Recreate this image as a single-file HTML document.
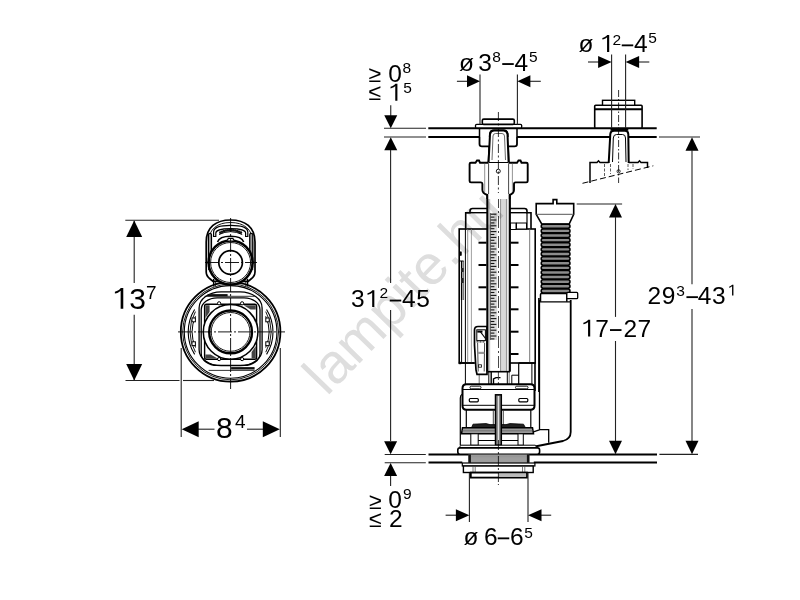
<!DOCTYPE html>
<html><head><meta charset="utf-8"><style>
html,body{margin:0;padding:0;background:#fff;width:800px;height:600px;overflow:hidden}
svg{display:block;will-change:transform}
text{font-family:"Liberation Sans",sans-serif;fill:#000}
</style></head><body>
<svg width="800" height="600" viewBox="0 0 800 600">
<rect width="800" height="600" fill="#fff"/>
<line x1="125.3" y1="220.3" x2="219" y2="220.3" stroke="#222" stroke-width="1.1" />
<line x1="134.2" y1="221" x2="134.2" y2="283" stroke="#222" stroke-width="1.1" />
<line x1="134.2" y1="314.7" x2="134.2" y2="380" stroke="#222" stroke-width="1.1" />
<polygon points="134.2,220.5 126.19999999999999,237.0 142.2,237.0" fill="#000"/>
<polygon points="134.2,380.5 126.19999999999999,364.0 142.2,364.0" fill="#000"/>
<line x1="125.5" y1="380.5" x2="179.5" y2="380.5" stroke="#222" stroke-width="1.1" />
<line x1="183" y1="380.5" x2="214" y2="380.5" stroke="#222" stroke-width="1.1" />
<line x1="181.2" y1="348" x2="181.2" y2="437" stroke="#222" stroke-width="1.1" />
<line x1="280.3" y1="348" x2="280.3" y2="437" stroke="#222" stroke-width="1.1" />
<line x1="197" y1="429.2" x2="214.5" y2="429.2" stroke="#222" stroke-width="1.1" />
<line x1="247" y1="429.2" x2="264" y2="429.2" stroke="#222" stroke-width="1.1" />
<polygon points="181.7,429.2 198.7,421.2 198.7,437.2" fill="#000"/>
<polygon points="279.8,429.2 262.8,421.2 262.8,437.2" fill="#000"/>
<path d="M590,0V1230C480,1120 340,1060 197,1030V1165C380,1210 520,1300 600,1409H770V0Z" fill="#000" transform="translate(112.00,308.7) scale(0.01465,-0.01465)"/>
<text x="129.18" y="308.7" font-size="30" >3</text>
<text x="146.00" y="298.5" font-size="19" >7</text>
<text x="216.00" y="438.2" font-size="30" >8</text>
<text x="235.00" y="428.3" font-size="19" >4</text>
<circle cx="230.6" cy="331.9" r="49.8" fill="#fff" stroke="#000" stroke-width="1.8" />
<circle cx="230.6" cy="331.9" r="47.9" fill="none" stroke="#000" stroke-width="0.9" />
<circle cx="230.6" cy="331.9" r="46.3" fill="none" stroke="#000" stroke-width="1.1" />
<rect x="199.1" y="291.9" width="63" height="73.8" rx="22" fill="none" stroke="#000" stroke-width="1.3" ry="16"/>
<rect x="201.2" y="297.79999999999995" width="58.8" height="67.6" rx="16" fill="none" stroke="#000" stroke-width="1.3" ry="12"/>
<rect x="204.6" y="304.2" width="52" height="55" rx="2" fill="none" stroke="#000" stroke-width="1.4" />
<polygon points="205.4,305.2 209.6,305.2 209.6,311.9 205.4,317.9" fill="#444"/>
<polygon points="255.79999999999998,305.2 243.6,305.2 250.6,309.4 255.79999999999998,309.4" fill="#444"/>
<polygon points="255.79999999999998,358.59999999999997 251.6,358.59999999999997 251.6,351.9 255.79999999999998,345.9" fill="#444"/>
<polygon points="205.4,358.59999999999997 217.6,358.59999999999997 210.6,354.4 205.4,354.4" fill="#444"/>
<path d="M266.56,309.43 A42.4,42.4 0 0 1 266.56,354.37" fill="none" stroke="#000" stroke-width="1.1" />
<path d="M265.76,311.60 A40.6,40.6 0 0 1 265.76,352.20" fill="none" stroke="#000" stroke-width="0.9" />
<path d="M265.68,316.28 A38.4,38.4 0 0 1 265.68,347.52" fill="none" stroke="#000" stroke-width="1.0" />
<rect x="265.8" y="318.0" width="3.4" height="3.8" rx="0" fill="#fff" stroke="#000" stroke-width="1.0" />
<rect x="265.8" y="341.8" width="3.4" height="3.8" rx="0" fill="#fff" stroke="#000" stroke-width="1.0" />
<path d="M194.64,354.37 A42.4,42.4 0 0 1 194.64,309.43" fill="none" stroke="#000" stroke-width="1.1" />
<path d="M195.44,352.20 A40.6,40.6 0 0 1 195.44,311.60" fill="none" stroke="#000" stroke-width="0.9" />
<path d="M195.52,347.52 A38.4,38.4 0 0 1 195.52,316.28" fill="none" stroke="#000" stroke-width="1.0" />
<rect x="192.0" y="318.0" width="3.4" height="3.8" rx="0" fill="#fff" stroke="#000" stroke-width="1.0" />
<rect x="192.0" y="341.8" width="3.4" height="3.8" rx="0" fill="#fff" stroke="#000" stroke-width="1.0" />
<circle cx="219.1" cy="303.29999999999995" r="1.6" fill="#fff" stroke="#000" stroke-width="1" />
<circle cx="219.1" cy="359.09999999999997" r="1.6" fill="#fff" stroke="#000" stroke-width="1" />
<circle cx="242.1" cy="303.29999999999995" r="1.6" fill="#fff" stroke="#000" stroke-width="1" />
<circle cx="242.1" cy="359.09999999999997" r="1.6" fill="#fff" stroke="#000" stroke-width="1" />
<circle cx="230.6" cy="331.9" r="27.3" fill="#fff" stroke="#000" stroke-width="1.5" />
<circle cx="230.6" cy="331.9" r="21.4" fill="none" stroke="#000" stroke-width="2.4" />
<circle cx="230.6" cy="331.9" r="19.4" fill="none" stroke="#000" stroke-width="0.9" />
<rect x="207.6" y="294.09999999999997" width="20" height="2.2" rx="0" fill="#111" stroke="none" stroke-width="0" />
<rect x="231.1" y="367.09999999999997" width="23.5" height="2.4" rx="0" fill="#111" stroke="none" stroke-width="0" />
<line x1="204.6" y1="296.29999999999995" x2="254.6" y2="296.29999999999995" stroke="#000" stroke-width="0.8" />
<line x1="208.6" y1="370.4" x2="254.6" y2="370.4" stroke="#000" stroke-width="0.8" />
<path d="M206.2,272 L206.2,242 C206.2,227 216,220 230.6,220 C245.2,220 255,227 255,242 L255,272 Q255,276 251,279 L248.2,281.3 L213,281.3 L210.2,279 Q206.2,276 206.2,272 Z" fill="#fff" stroke="#000" stroke-width="1.7" />
<path d="M208.5,270 L208.5,242.5 C208.5,229 217.5,222.5 230.6,222.5 C243.7,222.5 252.7,229 252.7,242.5 L252.7,270" fill="none" stroke="#000" stroke-width="0.9" />
<path d="M213.6,236.5 L213.6,232 C213.6,227.5 220,225.3 230.6,225.3 C241.2,225.3 247.8,227.5 247.8,232 L247.8,236.5 L245.6,236.5 L245.6,233 C245.6,230.5 240,228.6 230.6,228.6 C221.2,228.6 215.8,230.5 215.8,233 L215.8,236.5 Z" fill="#fff" stroke="#000" stroke-width="1.2" />
<circle cx="220.3" cy="232.6" r="1.3" fill="#111"/><circle cx="222.2" cy="231.7" r="1.3" fill="#111"/><circle cx="224.0" cy="231.1" r="1.3" fill="#111"/><circle cx="225.9" cy="230.5" r="1.3" fill="#111"/><circle cx="227.8" cy="230.2" r="1.3" fill="#111"/><circle cx="229.7" cy="230.0" r="1.3" fill="#111"/><circle cx="231.5" cy="230.0" r="1.3" fill="#111"/><circle cx="233.4" cy="230.2" r="1.3" fill="#111"/><circle cx="235.3" cy="230.5" r="1.3" fill="#111"/><circle cx="237.2" cy="231.1" r="1.3" fill="#111"/><circle cx="239.0" cy="231.7" r="1.3" fill="#111"/><circle cx="240.9" cy="232.6" r="1.3" fill="#111"/>
<path d="M219,234.5 Q230.6,228.8 242.2,234.5" fill="none" stroke="#000" stroke-width="1.0" />
<path d="M217.5,242 Q219.5,236.2 230.6,236.2 Q241.7,236.2 243.7,242" fill="none" stroke="#000" stroke-width="1.5" />
<rect x="208.4" y="233.3" width="3.1" height="31" rx="1.5" fill="#999" stroke="#000" stroke-width="1.2" />
<rect x="249.7" y="233.3" width="3.1" height="31" rx="1.5" fill="#999" stroke="#000" stroke-width="1.2" />
<rect x="207.6" y="261" width="4.6" height="3" rx="0" fill="#222" stroke="none" stroke-width="0" />
<rect x="249" y="261" width="4.6" height="3" rx="0" fill="#222" stroke="none" stroke-width="0" />
<circle cx="230.6" cy="262.5" r="22" fill="#fff" stroke="#000" stroke-width="2.5" />
<circle cx="230.6" cy="262.5" r="20" fill="none" stroke="#000" stroke-width="0.9" />
<circle cx="230.6" cy="262.5" r="11.8" fill="none" stroke="#000" stroke-width="1.7" />
<path d="M227.2,240.6 L228.3,238.4 L232.9,238.4 L234,240.6" fill="#fff" stroke="#000" stroke-width="1.2" />
<line x1="213.6" y1="279" x2="213.6" y2="286.5" stroke="#000" stroke-width="1.3" />
<line x1="215.4" y1="281.3" x2="215.4" y2="286" stroke="#000" stroke-width="0.8" />
<line x1="245.8" y1="281.3" x2="245.8" y2="286" stroke="#000" stroke-width="0.8" />
<line x1="247.6" y1="279" x2="247.6" y2="286.5" stroke="#000" stroke-width="1.3" />
<line x1="230.6" y1="218" x2="230.6" y2="389" stroke="#000" stroke-width="0.9" stroke-dasharray="14 2 2 2"/>
<line x1="205" y1="262.5" x2="257" y2="262.5" stroke="#000" stroke-width="0.9" stroke-dasharray="14 2 2 2"/>
<line x1="178" y1="331.9" x2="285" y2="331.9" stroke="#000" stroke-width="0.9" stroke-dasharray="14 2 2 2"/>
<line x1="384" y1="128.3" x2="426" y2="128.3" stroke="#222" stroke-width="1.1" />
<line x1="384" y1="137" x2="426" y2="137" stroke="#222" stroke-width="1.1" />
<line x1="428.3" y1="128.2" x2="656.7" y2="128.2" stroke="#000" stroke-width="2.0" />
<line x1="428.3" y1="137.0" x2="479.5" y2="137.0" stroke="#000" stroke-width="2.0" />
<line x1="517" y1="137.0" x2="610" y2="137.0" stroke="#000" stroke-width="2.0" />
<line x1="628.5" y1="137.0" x2="656.7" y2="137.0" stroke="#000" stroke-width="2.0" />
<line x1="659" y1="137" x2="700" y2="137" stroke="#222" stroke-width="1.1" />
<line x1="384.7" y1="454.5" x2="425.8" y2="454.5" stroke="#222" stroke-width="1.1" />
<line x1="384.7" y1="462.8" x2="425.8" y2="462.8" stroke="#222" stroke-width="1.1" />
<line x1="428.5" y1="454.4" x2="657" y2="454.4" stroke="#000" stroke-width="2.0" />
<line x1="428.5" y1="462.6" x2="462.3" y2="462.6" stroke="#000" stroke-width="2.0" />
<line x1="533.8" y1="462.6" x2="657" y2="462.6" stroke="#000" stroke-width="2.0" />
<line x1="659.4" y1="454.4" x2="698" y2="454.4" stroke="#222" stroke-width="1.1" />
<path d="M539.5,300 L539.5,429.6 M532.7,432.2 L540,429.6 L548.7,429.6 L548.7,442.7" fill="none" stroke="#000" stroke-width="1.3" />
<path d="M570.7,300 L570.7,432 Q570.7,439 563,441 L535,446.5" fill="none" stroke="#000" stroke-width="1.8" />
<rect x="459.2" y="229" width="76" height="134" rx="0" fill="#fff" stroke="#000" stroke-width="1.6" />
<line x1="461.6" y1="261" x2="461.6" y2="363" stroke="#000" stroke-width="1.0" />
<line x1="465.4" y1="229" x2="465.4" y2="384" stroke="#000" stroke-width="1.0" />
<line x1="467.7" y1="229" x2="467.7" y2="363" stroke="#777" stroke-width="0.8" />
<line x1="471.4" y1="229" x2="471.4" y2="363" stroke="#888" stroke-width="0.8" />
<line x1="529.7" y1="229" x2="529.7" y2="363" stroke="#555" stroke-width="0.8" />
<line x1="518.7" y1="363" x2="535" y2="363" stroke="#000" stroke-width="1.6" />
<line x1="518.7" y1="363" x2="518.7" y2="384" stroke="#000" stroke-width="1.2" />
<line x1="531.9" y1="363" x2="531.9" y2="384" stroke="#000" stroke-width="1.0" />
<line x1="535" y1="363" x2="535" y2="391" stroke="#000" stroke-width="1.6" />
<line x1="538.9" y1="298" x2="538.9" y2="392" stroke="#000" stroke-width="1.6" />
<line x1="459.2" y1="363" x2="474" y2="363" stroke="#000" stroke-width="1.6" />
<rect x="459.5" y="251.8" width="2" height="3.8" rx="0" fill="#000" stroke="#000" stroke-width="0.5" />
<line x1="461.6" y1="261" x2="461.6" y2="300" stroke="#000" stroke-width="1.4" />
<line x1="463.6" y1="261" x2="463.6" y2="300" stroke="#444" stroke-width="0.8" />
<rect x="461" y="268" width="2.6" height="4" rx="0" fill="#222" stroke="none" stroke-width="0" />
<rect x="461" y="278" width="2.6" height="5" rx="0" fill="#222" stroke="none" stroke-width="0" />
<line x1="459.2" y1="261" x2="463.6" y2="261" stroke="#000" stroke-width="1.0" />
<line x1="478.5" y1="242.7" x2="486.5" y2="242.7" stroke="#000" stroke-width="2.0" />
<line x1="510.5" y1="242.7" x2="518.5" y2="242.7" stroke="#000" stroke-width="2.0" />
<line x1="478.5" y1="265" x2="486.5" y2="265" stroke="#000" stroke-width="2.0" />
<line x1="510.5" y1="265" x2="518.5" y2="265" stroke="#000" stroke-width="2.0" />
<line x1="478.5" y1="287.3" x2="486.5" y2="287.3" stroke="#000" stroke-width="2.0" />
<line x1="510.5" y1="287.3" x2="518.5" y2="287.3" stroke="#000" stroke-width="2.0" />
<line x1="478.5" y1="309.3" x2="486.5" y2="309.3" stroke="#000" stroke-width="2.0" />
<line x1="510.5" y1="309.3" x2="518.5" y2="309.3" stroke="#000" stroke-width="2.0" />
<line x1="478.5" y1="331.7" x2="486.5" y2="331.7" stroke="#000" stroke-width="2.0" />
<line x1="510.5" y1="331.7" x2="518.5" y2="331.7" stroke="#000" stroke-width="2.0" />
<line x1="478.5" y1="354" x2="486.5" y2="354" stroke="#000" stroke-width="2.0" />
<line x1="510.5" y1="354" x2="518.5" y2="354" stroke="#000" stroke-width="2.0" />
<path d="M465.7,229 L465.7,212.7 L470,212.7 L470,211 Q470,208.5 472.5,208.5 L487,208.5" fill="#fff" stroke="#000" stroke-width="1.6" />
<line x1="465.7" y1="212.7" x2="487" y2="212.7" stroke="#000" stroke-width="1.4" />
<path d="M510,208.5 L524.5,208.5 Q527,208.5 527,211 L527,212.7 L531,212.7 L531,229" fill="#fff" stroke="#000" stroke-width="1.6" />
<line x1="510" y1="212.7" x2="527" y2="212.7" stroke="#000" stroke-width="1.4" />
<line x1="527" y1="212.7" x2="527" y2="229" stroke="#000" stroke-width="1.2" />
<rect x="510.5" y="223" width="5.5" height="6.5" rx="0" fill="#fff" stroke="#000" stroke-width="1.0" />
<rect x="516.5" y="223" width="10" height="6" rx="0" fill="#fff" stroke="#000" stroke-width="1.0" />
<path d="M474.5,330 Q474.5,326.5 478,326.5 L487,326.5 L487,374.3 L477,374.3 L476,370 L474.5,345 Z" fill="#fff" stroke="#000" stroke-width="1.7" />
<rect x="476.8" y="329.8" width="8.6" height="10.8" rx="0" fill="#fff" stroke="#000" stroke-width="1.0" />
<line x1="477.3" y1="331.6" x2="482.5" y2="331.6" stroke="#000" stroke-width="2.0" />
<line x1="480.5" y1="331.8" x2="485.5" y2="338.5" stroke="#000" stroke-width="1.1" />
<line x1="476.5" y1="341.8" x2="485.5" y2="341.8" stroke="#333" stroke-width="1.3" stroke-dasharray="2 1"/>
<line x1="477.6" y1="343" x2="478.2" y2="371.5" stroke="#333" stroke-width="0.9" />
<line x1="484.6" y1="343" x2="484.2" y2="371.5" stroke="#333" stroke-width="0.9" />
<rect x="477.8" y="351.8" width="6.6" height="2.2" rx="0" fill="#999" stroke="none" stroke-width="0" />
<rect x="478.5" y="364.8" width="3" height="2.4" rx="0" fill="#fff" stroke="#000" stroke-width="0.8" />
<line x1="488.8" y1="372" x2="488.8" y2="384" stroke="#000" stroke-width="1.0" />
<line x1="491.2" y1="372" x2="491.2" y2="384" stroke="#000" stroke-width="1.4" />
<line x1="507.3" y1="372" x2="507.3" y2="384" stroke="#000" stroke-width="1.0" />
<line x1="509.2" y1="372" x2="509.2" y2="384" stroke="#555" stroke-width="0.8" />
<path d="M493.5,384 L493.5,379 L496,377.6 L500.5,377.6" fill="none" stroke="#000" stroke-width="1.4" />
<line x1="511.8" y1="375.2" x2="518.7" y2="375.2" stroke="#000" stroke-width="1.0" />
<line x1="511.8" y1="375.2" x2="511.8" y2="384" stroke="#000" stroke-width="1.0" />
<line x1="479.2" y1="375" x2="479.2" y2="384" stroke="#444" stroke-width="0.8" />
<rect x="458.8" y="361.8" width="2.4" height="2.4" rx="0" fill="#000" stroke="none" stroke-width="0" />
<line x1="498.4" y1="372" x2="498.4" y2="394" stroke="#333" stroke-width="0.9" stroke-dasharray="8 2 2 2"/>
<rect x="487.3" y="193" width="22.6" height="178.7" rx="0" fill="#fff" stroke="none" stroke-width="0" />
<rect x="488" y="196" width="2.2" height="175.5" rx="0" fill="#c8c8c8" stroke="none" stroke-width="0" />
<rect x="490.2" y="213" width="7" height="127" rx="0" fill="#dadada" stroke="none" stroke-width="0" />
<line x1="490.4" y1="214.2" x2="496.4" y2="214.2" stroke="#111" stroke-width="1.1" />
<line x1="490.4" y1="217.1" x2="494.4" y2="217.1" stroke="#111" stroke-width="1.1" />
<line x1="490.4" y1="220.0" x2="496.4" y2="220.0" stroke="#111" stroke-width="1.1" />
<line x1="490.4" y1="222.9" x2="494.4" y2="222.9" stroke="#111" stroke-width="1.1" />
<line x1="490.4" y1="225.8" x2="496.4" y2="225.8" stroke="#111" stroke-width="1.1" />
<line x1="490.4" y1="228.7" x2="494.4" y2="228.7" stroke="#111" stroke-width="1.1" />
<line x1="490.4" y1="231.6" x2="496.4" y2="231.6" stroke="#111" stroke-width="1.1" />
<line x1="490.4" y1="234.5" x2="494.4" y2="234.5" stroke="#111" stroke-width="1.1" />
<line x1="490.4" y1="237.4" x2="496.4" y2="237.4" stroke="#111" stroke-width="1.1" />
<line x1="490.4" y1="240.3" x2="494.4" y2="240.3" stroke="#111" stroke-width="1.1" />
<line x1="490.4" y1="243.2" x2="496.4" y2="243.2" stroke="#111" stroke-width="1.1" />
<line x1="490.4" y1="246.1" x2="494.4" y2="246.1" stroke="#111" stroke-width="1.1" />
<line x1="490.4" y1="249.0" x2="496.4" y2="249.0" stroke="#111" stroke-width="1.1" />
<line x1="490.4" y1="251.9" x2="494.4" y2="251.9" stroke="#111" stroke-width="1.1" />
<line x1="490.4" y1="254.8" x2="496.4" y2="254.8" stroke="#111" stroke-width="1.1" />
<line x1="490.4" y1="257.7" x2="494.4" y2="257.7" stroke="#111" stroke-width="1.1" />
<line x1="490.4" y1="260.6" x2="496.4" y2="260.6" stroke="#111" stroke-width="1.1" />
<line x1="490.4" y1="263.5" x2="494.4" y2="263.5" stroke="#111" stroke-width="1.1" />
<line x1="490.4" y1="266.4" x2="496.4" y2="266.4" stroke="#111" stroke-width="1.1" />
<line x1="490.4" y1="269.3" x2="494.4" y2="269.3" stroke="#111" stroke-width="1.1" />
<line x1="490.4" y1="272.2" x2="496.4" y2="272.2" stroke="#111" stroke-width="1.1" />
<line x1="490.4" y1="275.1" x2="494.4" y2="275.1" stroke="#111" stroke-width="1.1" />
<line x1="490.4" y1="278.0" x2="496.4" y2="278.0" stroke="#111" stroke-width="1.1" />
<line x1="490.4" y1="280.9" x2="494.4" y2="280.9" stroke="#111" stroke-width="1.1" />
<line x1="490.4" y1="283.8" x2="496.4" y2="283.8" stroke="#111" stroke-width="1.1" />
<line x1="490.4" y1="286.7" x2="494.4" y2="286.7" stroke="#111" stroke-width="1.1" />
<line x1="490.4" y1="289.6" x2="496.4" y2="289.6" stroke="#111" stroke-width="1.1" />
<line x1="490.4" y1="292.5" x2="494.4" y2="292.5" stroke="#111" stroke-width="1.1" />
<line x1="490.4" y1="295.4" x2="496.4" y2="295.4" stroke="#111" stroke-width="1.1" />
<line x1="490.4" y1="298.3" x2="494.4" y2="298.3" stroke="#111" stroke-width="1.1" />
<line x1="490.4" y1="301.2" x2="496.4" y2="301.2" stroke="#111" stroke-width="1.1" />
<line x1="490.4" y1="304.1" x2="494.4" y2="304.1" stroke="#111" stroke-width="1.1" />
<line x1="490.4" y1="307.0" x2="496.4" y2="307.0" stroke="#111" stroke-width="1.1" />
<line x1="490.4" y1="309.9" x2="494.4" y2="309.9" stroke="#111" stroke-width="1.1" />
<line x1="490.4" y1="312.8" x2="496.4" y2="312.8" stroke="#111" stroke-width="1.1" />
<line x1="490.4" y1="315.7" x2="494.4" y2="315.7" stroke="#111" stroke-width="1.1" />
<line x1="490.4" y1="318.6" x2="496.4" y2="318.6" stroke="#111" stroke-width="1.1" />
<line x1="490.4" y1="321.5" x2="494.4" y2="321.5" stroke="#111" stroke-width="1.1" />
<line x1="490.4" y1="324.4" x2="496.4" y2="324.4" stroke="#111" stroke-width="1.1" />
<line x1="490.4" y1="327.3" x2="494.4" y2="327.3" stroke="#111" stroke-width="1.1" />
<line x1="490.4" y1="330.2" x2="496.4" y2="330.2" stroke="#111" stroke-width="1.1" />
<line x1="490.4" y1="333.1" x2="494.4" y2="333.1" stroke="#111" stroke-width="1.1" />
<line x1="490.4" y1="336.0" x2="496.4" y2="336.0" stroke="#111" stroke-width="1.1" />
<line x1="490.4" y1="338.9" x2="494.4" y2="338.9" stroke="#111" stroke-width="1.1" />
<line x1="490.4" y1="213" x2="490.4" y2="340" stroke="#444" stroke-width="0.8" />
<rect x="500.6" y="192.5" width="5.8" height="179" rx="0" fill="#d8d8d8" stroke="#888" stroke-width="0.9" />
<line x1="508.2" y1="196" x2="508.2" y2="371.7" stroke="#aaa" stroke-width="0.8" />
<line x1="498.5" y1="196" x2="498.5" y2="371" stroke="#333" stroke-width="0.9" stroke-dasharray="12 3 2 3"/>
<line x1="487.3" y1="193" x2="487.3" y2="371.7" stroke="#000" stroke-width="2.0" />
<line x1="509.9" y1="193" x2="509.9" y2="371.7" stroke="#000" stroke-width="2.0" />
<line x1="487.3" y1="371.7" x2="509.9" y2="371.7" stroke="#000" stroke-width="1.6" />
<path d="M469.6,164 Q469.6,162.7 471,162.7 L526.3,162.7 Q527.7,162.7 527.7,164 L527.7,181 Q527.7,182.4 526.3,182.4 L515.5,182.4 Q514,182.4 514,184 L514,190 Q514,193.3 509.6,195 L509.6,199 L487.3,199 L487.3,195 Q482.4,193.3 482.4,190 L482.4,184 Q482.4,182.4 481,182.4 L471,182.4 Q469.6,182.4 469.6,181 Z" fill="#fff" stroke="none" stroke-width="0" />
<path d="M487.3,199 L487.3,195 Q482.4,193.3 482.4,190 L482.4,184 Q482.4,182.4 481,182.4 L471,182.4 Q469.6,182.4 469.6,181 L469.6,164 Q469.6,162.7 471,162.7 L475.5,162.7 L477,160.5 L479,160.5 L480,162.7 L488.6,162.7 M508.6,162.7 L517,162.7 L518.5,160.5 L520.5,160.5 L521.5,162.7 L526.3,162.7 Q527.7,162.7 527.7,164 L527.7,181 Q527.7,182.4 526.3,182.4 L515.5,182.4 Q514,182.4 514,184 L514,190 Q514,193.3 509.6,195 L509.6,199" fill="none" stroke="#000" stroke-width="1.9" />
<line x1="484.7" y1="163.5" x2="484.7" y2="192" stroke="#666" stroke-width="0.7" />
<line x1="488.6" y1="163.5" x2="488.6" y2="194" stroke="#333" stroke-width="0.9" />
<line x1="508.6" y1="163.5" x2="508.6" y2="194" stroke="#333" stroke-width="0.9" />
<line x1="512.4" y1="163.5" x2="512.4" y2="192" stroke="#666" stroke-width="0.7" />
<circle cx="498.3" cy="171.2" r="2.0" fill="#fff" stroke="#000" stroke-width="0.9" />
<line x1="488.6" y1="162.2" x2="508.6" y2="162.2" stroke="#000" stroke-width="1.6" />
<path d="M488.6,162 L490,134 Q490.5,130.6 494,130.6 L503.5,130.6 Q507,130.6 507.5,134 L508.6,162" fill="#fff" stroke="#000" stroke-width="2.0" />
<path d="M492,160 L493,136 Q493.3,133.5 495.5,133.5 L502,133.5 Q504.3,133.5 504.5,136 L505.5,160" fill="none" stroke="#444" stroke-width="0.8" />
<path d="M479.5,137 L479.5,144 Q479.5,146.4 482,146.4 L514.5,146.4 Q517,146.4 517,144 L517,137" fill="#fff" stroke="#000" stroke-width="1.8" />
<line x1="479.5" y1="128.5" x2="479.5" y2="137" stroke="#000" stroke-width="1.5" />
<line x1="517" y1="128.5" x2="517" y2="137" stroke="#000" stroke-width="1.5" />
<path d="M488.6,162 L490,134 Q490.5,130.6 494,130.6 L503.5,130.6 Q507,130.6 507.5,134 L508.6,162" fill="#fff" stroke="#000" stroke-width="2.0" />
<path d="M492,160 L493,136 Q493.3,133.5 495.5,133.5 L502,133.5 Q504.3,133.5 504.5,136 L505.5,160" fill="none" stroke="#444" stroke-width="0.8" />
<rect x="475.5" y="124.4" width="46.2" height="3.6" rx="1.2" fill="#fff" stroke="#000" stroke-width="1.3" />
<rect x="482.3" y="119.1" width="32" height="5.3" rx="1.5" fill="#fff" stroke="#000" stroke-width="1.6" />
<line x1="498.4" y1="112" x2="498.4" y2="193" stroke="#000" stroke-width="0.8" stroke-dasharray="9 2.5 2 2.5"/>
<path d="M460.3,445 L460.3,398 Q460.3,395 462.5,394" fill="none" stroke="#000" stroke-width="1.2" />
<path d="M466.5,384.3 L530.5,384.3 Q534.5,384.3 534.5,388.3 L534.5,405.8 Q534.5,409.8 530.5,409.8 L466.5,409.8 Q462.5,409.8 462.5,405.8 L462.5,388.3 Q462.5,384.3 466.5,384.3 Z" fill="#fff" stroke="#000" stroke-width="2.0" />
<line x1="463" y1="389.5" x2="534" y2="389.5" stroke="#000" stroke-width="1.0" />
<line x1="463" y1="405.3" x2="534" y2="405.3" stroke="#000" stroke-width="1.0" />
<rect x="470" y="386.2" width="11" height="2.6" rx="1.2" fill="#fff" stroke="#000" stroke-width="0.9" />
<rect x="515.5" y="386.2" width="12.5" height="2.6" rx="1.2" fill="#fff" stroke="#000" stroke-width="0.9" />
<rect x="469.3" y="398.5" width="9" height="3.3" rx="1" fill="#fff" stroke="#000" stroke-width="1.2" />
<rect x="518.8" y="398.5" width="9" height="3.3" rx="1" fill="#fff" stroke="#000" stroke-width="1.2" />
<line x1="466.3" y1="409.8" x2="466.3" y2="428" stroke="#000" stroke-width="1.2" />
<line x1="530.8" y1="409.8" x2="530.8" y2="428" stroke="#000" stroke-width="1.2" />
<line x1="493.3" y1="409.8" x2="493.3" y2="427" stroke="#333" stroke-width="0.9" />
<line x1="503.3" y1="409.8" x2="503.3" y2="427" stroke="#333" stroke-width="0.9" />
<path d="M471.5,427.8 L473,424.2 L486,423.6 L490,424.6 L506,424.6 L510,423.6 L523.5,424.2 L525.5,427.8 Z" fill="#222" stroke="#000" stroke-width="0.8" />
<path d="M462.5,427.8 L532.5,427.8 L533.5,433.8 L461.5,433.8 Z" fill="#9a9a9a" stroke="#000" stroke-width="1.5" />
<line x1="462" y1="430.8" x2="533" y2="430.8" stroke="#555" stroke-width="0.6" />
<rect x="470.8" y="433.8" width="7.4" height="11.5" rx="0" fill="#fff" stroke="#000" stroke-width="1.0" />
<rect x="518" y="433.8" width="5.3" height="11.5" rx="0" fill="#fff" stroke="#000" stroke-width="1.0" />
<line x1="478.2" y1="440.5" x2="518" y2="440.5" stroke="#000" stroke-width="1.0" />
<rect x="495.5" y="394.8" width="5.8" height="50.5" rx="0" fill="#888" stroke="#000" stroke-width="1.5" />
<line x1="498.4" y1="396" x2="498.4" y2="444" stroke="#eee" stroke-width="1.0" />
<rect x="460" y="445.2" width="76" height="3" rx="1" fill="#fff" stroke="#000" stroke-width="1.0" />
<rect x="457.8" y="447.9" width="81.8" height="6.3" rx="2.2" fill="#fff" stroke="#000" stroke-width="1.6" />
<rect x="468.5" y="454.6" width="60.8" height="8.2" rx="0" fill="#c2c2c2" stroke="none" stroke-width="0" />
<line x1="470" y1="455.4" x2="527.5" y2="455.4" stroke="#666" stroke-width="0.5" />
<line x1="470" y1="456.55" x2="527.5" y2="456.55" stroke="#666" stroke-width="0.5" />
<line x1="470" y1="457.7" x2="527.5" y2="457.7" stroke="#666" stroke-width="0.5" />
<line x1="470" y1="458.85" x2="527.5" y2="458.85" stroke="#666" stroke-width="0.5" />
<line x1="470" y1="460.0" x2="527.5" y2="460.0" stroke="#666" stroke-width="0.5" />
<line x1="470" y1="461.15" x2="527.5" y2="461.15" stroke="#666" stroke-width="0.5" />
<line x1="470" y1="462.3" x2="527.5" y2="462.3" stroke="#666" stroke-width="0.5" />
<rect x="468.3" y="454.4" width="2.6" height="8.4" rx="0" fill="#111" stroke="none" stroke-width="0" />
<rect x="526.9" y="454.4" width="2.6" height="8.4" rx="0" fill="#111" stroke="none" stroke-width="0" />
<rect x="462.3" y="463" width="72.6" height="3" rx="0" fill="#fff" stroke="#000" stroke-width="1.2" />
<rect x="463.4" y="466" width="69.8" height="6.5" rx="0" fill="#fff" stroke="#000" stroke-width="1.4" />
<line x1="473" y1="466" x2="473" y2="472.5" stroke="#444" stroke-width="0.7" />
<line x1="475.2" y1="466" x2="475.2" y2="472.5" stroke="#444" stroke-width="0.7" />
<line x1="522.5" y1="466" x2="522.5" y2="472.5" stroke="#444" stroke-width="0.7" />
<line x1="524.8" y1="466" x2="524.8" y2="472.5" stroke="#444" stroke-width="0.7" />
<rect x="470.8" y="472.6" width="56.2" height="5" rx="0" fill="#fff" stroke="#000" stroke-width="1.8" />
<rect x="499" y="473.6" width="27" height="3" rx="0" fill="#bbb" stroke="none" stroke-width="0" />
<line x1="498.4" y1="440" x2="498.4" y2="485" stroke="#000" stroke-width="0.8" stroke-dasharray="10 2 2 2"/>
<path d="M536.2,203.6 L553.1,203.6 L553.1,199.6 L556.8,199.6 L556.8,203.6 L573.7,203.6 L573.7,214.4 L569.2,224 L541.7,224 L536.2,214.4 Z" fill="#fff" stroke="#000" stroke-width="1.6" />
<line x1="536.6" y1="214.4" x2="573.3" y2="214.4" stroke="#777" stroke-width="1.2" />
<rect x="542" y="224" width="27" height="69" rx="0" fill="#444" stroke="none" stroke-width="0" />
<rect x="541.2" y="224.3" width="28.8" height="3.9" rx="1.9" fill="#8c8c8c" stroke="#000" stroke-width="1.5" />
<rect x="541.2" y="228.92" width="28.8" height="3.9" rx="1.9" fill="#8c8c8c" stroke="#000" stroke-width="1.5" />
<rect x="541.2" y="233.54" width="28.8" height="3.9" rx="1.9" fill="#8c8c8c" stroke="#000" stroke-width="1.5" />
<rect x="541.2" y="238.16" width="28.8" height="3.9" rx="1.9" fill="#8c8c8c" stroke="#000" stroke-width="1.5" />
<rect x="541.2" y="242.78" width="28.8" height="3.9" rx="1.9" fill="#8c8c8c" stroke="#000" stroke-width="1.5" />
<rect x="541.2" y="247.4" width="28.8" height="3.9" rx="1.9" fill="#8c8c8c" stroke="#000" stroke-width="1.5" />
<rect x="541.2" y="252.02" width="28.8" height="3.9" rx="1.9" fill="#8c8c8c" stroke="#000" stroke-width="1.5" />
<rect x="541.2" y="256.64" width="28.8" height="3.9" rx="1.9" fill="#8c8c8c" stroke="#000" stroke-width="1.5" />
<rect x="541.2" y="261.26" width="28.8" height="3.9" rx="1.9" fill="#8c8c8c" stroke="#000" stroke-width="1.5" />
<rect x="541.2" y="265.88" width="28.8" height="3.9" rx="1.9" fill="#8c8c8c" stroke="#000" stroke-width="1.5" />
<rect x="541.2" y="270.5" width="28.8" height="3.9" rx="1.9" fill="#8c8c8c" stroke="#000" stroke-width="1.5" />
<rect x="541.2" y="275.12" width="28.8" height="3.9" rx="1.9" fill="#8c8c8c" stroke="#000" stroke-width="1.5" />
<rect x="541.2" y="279.74" width="28.8" height="3.9" rx="1.9" fill="#8c8c8c" stroke="#000" stroke-width="1.5" />
<rect x="541.2" y="284.36" width="28.8" height="3.9" rx="1.9" fill="#8c8c8c" stroke="#000" stroke-width="1.5" />
<rect x="541.2" y="288.98" width="28.8" height="3.9" rx="1.9" fill="#8c8c8c" stroke="#000" stroke-width="1.5" />
<path d="M540.5,301.8 L540.5,294.5 Q540.5,293.5 541.5,293.5 L566.8,293.5 L566.8,301.8" fill="#fff" stroke="#000" stroke-width="1.5" />
<line x1="538.9" y1="301.8" x2="571" y2="301.8" stroke="#000" stroke-width="1.3" />
<rect x="566.8" y="292.4" width="10.9" height="6.3" rx="1" fill="#fff" stroke="#000" stroke-width="1.3" />
<rect x="594.7" y="105.3" width="47.4" height="22.8" rx="1" fill="#fff" stroke="#000" stroke-width="1.6" />
<rect x="602.5" y="100.3" width="32.2" height="5" rx="0" fill="#fff" stroke="#000" stroke-width="1.4" />
<line x1="595" y1="109.2" x2="642" y2="109.2" stroke="#000" stroke-width="2.0" />
<path d="M608.7,163 L610.3,134 Q610.7,130.8 614,130.8 L625,130.8 Q628,130.8 628.3,134 L628.7,163" fill="#fff" stroke="#000" stroke-width="2.0" />
<path d="M612.5,162 L613.3,138 Q613.5,134.5 616.5,134.5 L622.5,134.5 Q625.5,134.5 625.5,138 L626,162" fill="none" stroke="#000" stroke-width="1.0" />
<rect x="610.5" y="128.3" width="17.8" height="2.4" rx="0" fill="#000" stroke="none" stroke-width="0" />
<path d="M590,183 L590,162.5 L597,162.5 L598.5,160.8 L600,162.5 L608.7,162.5 M628.7,162.5 L638,162.5 L639.5,160.8 L641,162.5 L647.5,162.5 L647.5,168" fill="none" stroke="#000" stroke-width="1.5" />
<line x1="582.5" y1="183.3" x2="653.3" y2="165.8" stroke="#000" stroke-width="1.0" stroke-dasharray="6 3"/>
<line x1="604.5" y1="164" x2="604.5" y2="176" stroke="#333" stroke-width="0.8" stroke-dasharray="3 1.5"/>
<line x1="610.5" y1="164" x2="610.5" y2="174" stroke="#333" stroke-width="0.8" stroke-dasharray="3 1.5"/>
<line x1="628" y1="164" x2="628" y2="170" stroke="#333" stroke-width="0.8" stroke-dasharray="3 1.5"/>
<line x1="633" y1="164" x2="633" y2="169" stroke="#333" stroke-width="0.8" stroke-dasharray="3 1.5"/>
<circle cx="618.6" cy="171.3" r="1.6" fill="none" stroke="#000" stroke-width="0.8" />
<line x1="618.6" y1="90" x2="618.6" y2="183" stroke="#000" stroke-width="0.8" stroke-dasharray="7 2 1.5 2"/>
<line x1="390.75" y1="105.3" x2="390.75" y2="116" stroke="#222" stroke-width="1.1" />
<polygon points="390.75,128.2 384.25,115.19999999999999 397.25,115.19999999999999" fill="#000"/>
<polygon points="390.75,137.3 384.25,150.3 397.25,150.3" fill="#000"/>
<line x1="390.6" y1="150" x2="390.6" y2="283" stroke="#222" stroke-width="1.1" />
<line x1="390.6" y1="310" x2="390.6" y2="441" stroke="#222" stroke-width="1.1" />
<polygon points="390.6,454.3 384.1,441.3 397.1,441.3" fill="#000"/>
<polygon points="390.6,463 384.1,476 397.1,476" fill="#000"/>
<line x1="390.6" y1="476" x2="390.6" y2="486" stroke="#222" stroke-width="1.1" />
<line x1="480" y1="74.4" x2="480" y2="124.4" stroke="#222" stroke-width="1.1" />
<line x1="517.4" y1="74.4" x2="517.4" y2="124.4" stroke="#222" stroke-width="1.1" />
<line x1="456.9" y1="81.3" x2="468" y2="81.3" stroke="#222" stroke-width="1.1" />
<line x1="530" y1="81.3" x2="540.8" y2="81.3" stroke="#222" stroke-width="1.1" />
<polygon points="480,81.3 467,75.3 467,87.3" fill="#000"/>
<polygon points="517.4,81.3 530.4,75.3 530.4,87.3" fill="#000"/>
<line x1="611.6" y1="54.5" x2="611.6" y2="128" stroke="#222" stroke-width="1.1" />
<line x1="625.6" y1="54.5" x2="625.6" y2="128" stroke="#222" stroke-width="1.1" />
<line x1="588" y1="62" x2="599" y2="62" stroke="#222" stroke-width="1.1" />
<line x1="639" y1="62" x2="649.3" y2="62" stroke="#222" stroke-width="1.1" />
<polygon points="611.6,62 598.1,56 598.1,68" fill="#000"/>
<polygon points="625.6,62 639.1,56 639.1,68" fill="#000"/>
<line x1="469.4" y1="473" x2="469.4" y2="522" stroke="#222" stroke-width="1.1" />
<line x1="528" y1="473" x2="528" y2="522" stroke="#222" stroke-width="1.1" />
<line x1="445.6" y1="515.2" x2="456.5" y2="515.2" stroke="#222" stroke-width="1.1" />
<line x1="541" y1="515.2" x2="551.2" y2="515.2" stroke="#222" stroke-width="1.1" />
<polygon points="469.4,515.2 455.9,509.20000000000005 455.9,521.2" fill="#000"/>
<polygon points="528,515.2 541.5,509.20000000000005 541.5,521.2" fill="#000"/>
<line x1="576.7" y1="204" x2="622.1" y2="204" stroke="#222" stroke-width="1.1" />
<polygon points="615.5,204 609.0,217.5 622.0,217.5" fill="#000"/>
<line x1="615.5" y1="217" x2="615.5" y2="316.9" stroke="#222" stroke-width="1.1" />
<line x1="615.5" y1="341" x2="615.5" y2="441" stroke="#222" stroke-width="1.1" />
<polygon points="615.5,454.2 609.0,440.7 622.0,440.7" fill="#000"/>
<polygon points="692,137.2 685.5,150.7 698.5,150.7" fill="#000"/>
<line x1="692" y1="150" x2="692" y2="284.2" stroke="#222" stroke-width="1.1" />
<line x1="692" y1="309" x2="692" y2="441" stroke="#222" stroke-width="1.1" />
<polygon points="692,454.2 685.5,440.7 698.5,440.7" fill="#000"/>
<text x="351.00" y="307.1" font-size="24.5" >3</text>
<path d="M590,0V1230C480,1120 340,1060 197,1030V1165C380,1210 520,1300 600,1409H770V0Z" fill="#000" transform="translate(365.13,307.1) scale(0.01196,-0.01196)"/>
<text x="379.50" y="298.1" font-size="15.5" >2</text>
<rect x="389.74" y="299.63" width="11.51" height="1.84" fill="#000"/>
<text x="402.00" y="307.1" font-size="24.5" >4</text>
<text x="416.13" y="307.1" font-size="24.5" >5</text>
<text x="647.50" y="303.7" font-size="24.5" >2</text>
<text x="661.63" y="303.7" font-size="24.5" >9</text>
<text x="676.30" y="295.5" font-size="15.5" >3</text>
<rect x="686.44" y="296.23" width="11.51" height="1.84" fill="#000"/>
<text x="697.80" y="303.7" font-size="24.5" >4</text>
<text x="711.93" y="303.7" font-size="24.5" >3</text>
<path d="M590,0V1230C480,1120 340,1060 197,1030V1165C380,1210 520,1300 600,1409H770V0Z" fill="#000" transform="translate(727.60,295.5) scale(0.00757,-0.00757)"/>
<path d="M590,0V1230C480,1120 340,1060 197,1030V1165C380,1210 520,1300 600,1409H770V0Z" fill="#000" transform="translate(581.00,336.6) scale(0.01196,-0.01196)"/>
<text x="595.13" y="336.6" font-size="24.5" >7</text>
<rect x="609.99" y="329.13" width="11.51" height="1.84" fill="#000"/>
<text x="623.38" y="336.6" font-size="24.5" >2</text>
<text x="637.50" y="336.6" font-size="24.5" >7</text>
<text x="459.00" y="70.6" font-size="24.5" >ø</text>
<text x="478.30" y="70.6" font-size="24.5" >3</text>
<text x="492.30" y="61.9" font-size="15.5" >8</text>
<rect x="502.24" y="63.13" width="11.51" height="1.84" fill="#000"/>
<text x="514.50" y="70.6" font-size="24.5" >4</text>
<text x="529.00" y="61.9" font-size="15.5" >5</text>
<text x="578.50" y="51.9" font-size="24.5" >ø</text>
<path d="M590,0V1230C480,1120 340,1060 197,1030V1165C380,1210 520,1300 600,1409H770V0Z" fill="#000" transform="translate(600.00,51.9) scale(0.01196,-0.01196)"/>
<text x="612.50" y="45.3" font-size="15.5" >2</text>
<rect x="621.74" y="44.43" width="11.51" height="1.84" fill="#000"/>
<text x="634.00" y="51.9" font-size="24.5" >4</text>
<text x="648.30" y="42.6" font-size="15.5" >5</text>
<text x="463.50" y="544.9" font-size="24.5" >ø</text>
<text x="484.00" y="544.9" font-size="24.5" >6</text>
<rect x="497.74" y="537.43" width="11.51" height="1.84" fill="#000"/>
<text x="510.00" y="544.9" font-size="24.5" >6</text>
<text x="524.30" y="538.0" font-size="15.5" >5</text>
<text x="388.20" y="82" font-size="24.5" >0</text>
<text x="402.50" y="73" font-size="15.5" >8</text>
<path d="M590,0V1230C480,1120 340,1060 197,1030V1165C380,1210 520,1300 600,1409H770V0Z" fill="#000" transform="translate(388.20,100.7) scale(0.01196,-0.01196)"/>
<text x="403.30" y="92.5" font-size="15.5" >5</text>
<text x="388.20" y="507.5" font-size="24.5" >0</text>
<text x="402.90" y="498.7" font-size="15.5" >9</text>
<text x="389.00" y="526.7" font-size="24.5" >2</text>
<text x="368.50" y="82.3" font-size="23" >≥</text>
<text x="368.50" y="100.3" font-size="23" >≤</text>
<text x="369.00" y="508.5" font-size="23" >≥</text>
<text x="369.00" y="526.9" font-size="23" >≤</text>
<text x="0" y="0" font-size="55.7" style="fill:#dedede;mix-blend-mode:multiply" transform="translate(326.8,396.9) rotate(-45.7)">lampite.hu</text>
</svg></body></html>
